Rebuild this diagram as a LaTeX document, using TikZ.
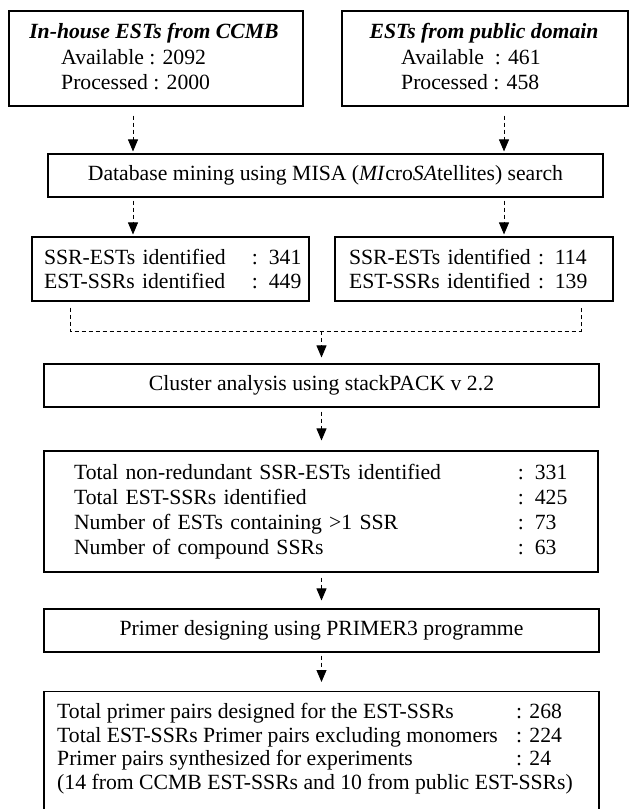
\documentclass[tikz,border=0pt]{standalone}
\usepackage{fontspec}
\setmainfont{Liberation Serif}
\usetikzlibrary{arrows.meta}
\def\entry#1#2#3{\mbox{\makebox[#1][l]{#2}: #3}}
\tikzset{
	box/.style={draw, line width=1.1pt, inner sep=0pt, font=\fontsize{21.7}{24}\selectfont},
	txt/.style={inner sep=0pt, font=\fontsize{21.7}{25}\selectfont},
	flow/.style={line width=0.9pt, dash pattern=on 4pt off 3pt, -{Triangle[length=12pt,width=10pt]}},
	merge/.style={line width=0.9pt, dash pattern=on 4pt off 3pt}
}

\begin{document}
\begin{tikzpicture}[x=1pt,y=1pt]
			%%%%% START %%%%%
			\useasboundingbox (0,0) rectangle (630,-809);
			
			\coordinate (lx) at (133,0);
			\coordinate (rx) at (504,0);
			
			\node[box, minimum width=294, minimum height=95] (inhouse) at (156,-58.5) {};
			\node[txt] (inhouseT) at (154,-33) {\textbf{\textit{In-house ESTs from CCMB}}};
			\node[txt, anchor=west, align=left] (inhouseN) at (61,-69.5) {Available : 2092\\Processed : 2000};
			
			\node[box, minimum width=286, minimum height=95] (public) at (485,-58.5) {};
			\node[txt] (publicT) at (484,-33) {\textbf{\textit{ESTs from public domain}}};
			\node[txt, anchor=west, align=left] (publicN) at (401,-69.5) {Available\ \ : 461\\Processed : 458};
			
			\node[box, minimum width=555, minimum height=43] (misa) at (325.5,-175.5) {Database mining using MISA (\textit{MI}cro\textit{SA}tellites) search};
			
			\node[box, minimum height=64, text width=253, inner xsep=12, align=left] (ssrA) at (170.5,-269) {\entry{208pt}{SSR-ESTs identified}{341}\\\entry{208pt}{EST-SSRs identified}{449}};
			\node[box, minimum height=64, text width=250, inner xsep=14, align=left] (ssrB) at (474,-269) {\entry{189pt}{SSR-ESTs identified}{114}\\\entry{189pt}{EST-SSRs identified}{139}};
			
			\node[box, minimum width=555, minimum height=43] (cluster) at (321.5,-385.5) {Cluster analysis using stackPACK v 2.2};
			
			\node[box, minimum height=121, text width=494, inner xsep=30, align=left, font=\fontsize{21.7}{25}\selectfont] (summary) at (321,-511.5) {\entry{444pt}{Total non-redundant SSR-ESTs identified}{331}\\\entry{444pt}{Total EST-SSRs identified}{425}\\\entry{444pt}{Number of ESTs containing >1 SSR}{73}\\\entry{444pt}{Number of compound SSRs}{63}};
			
			\node[box, minimum width=555, minimum height=43] (primer) at (321.5,-630.5) {Primer designing using PRIMER3 programme};
			
			\node[box, anchor=north, minimum width=555, minimum height=130] (primers) at (321.5,-691) {};
			\node[txt, anchor=north west, align=left, font=\fontsize{21.7}{23.7}\selectfont] (primersN) at (57,-703) {\entry{459pt}{Total primer pairs designed for the EST-SSRs}{268}\\\entry{459pt}{Total EST-SSRs Primer pairs excluding monomers}{224}\\\entry{459pt}{Primer pairs synthesized for experiments}{24}\\(14 from CCMB EST-SSRs and 10 from public EST-SSRs)};
			
			\draw[flow, shorten <=9pt, shorten >=2pt] (inhouse.south -| lx) -- (misa.north -| lx);
			\draw[flow, shorten <=9pt, shorten >=2pt] (public.south -| rx) -- (misa.north -| rx);
			\draw[flow, shorten <=3pt, shorten >=2pt] (misa.south -| lx) -- (ssrA.north -| lx);
			\draw[flow, shorten <=3pt, shorten >=2pt] (misa.south -| rx) -- (ssrB.north -| rx);
			
			\coordinate (ml) at (70,-331);
			\coordinate (mr) at (581,-331);
			\coordinate (mc) at (321.5,-331);
			\draw[merge] ([yshift=-6pt]ssrA.south -| ml) -- (ml) -- (mr) -- ([yshift=-6pt]ssrB.south -| mr);
			\draw[flow, shorten >=6pt] (mc) -- (cluster.north);
			
			\draw[flow, shorten <=4pt, shorten >=10pt] (cluster.south) -- (cluster.south |- summary.north);
			\draw[flow, shorten <=5pt, shorten >=8pt] (summary.south -| cluster.south) -- (primer.north);
			\draw[flow, shorten <=3pt, shorten >=9pt] (primer.south) -- (primers.north);
			
			%%%%% END %%%%%
\end{tikzpicture}
\end{document}
